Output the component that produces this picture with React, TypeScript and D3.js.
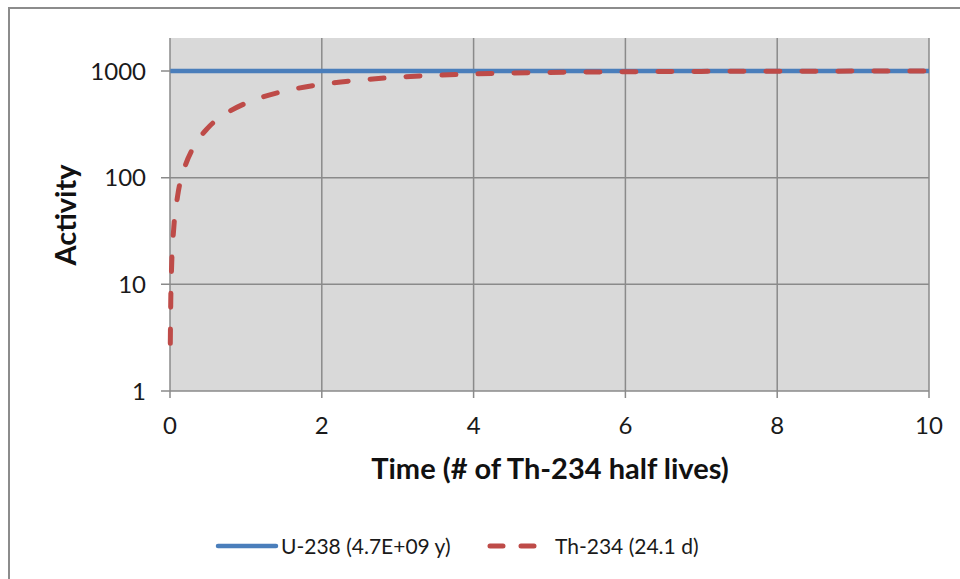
import { useEffect, useRef } from "react";
import * as d3 from "d3";

// half lives of Th-234
const times = [0.004, 0.01, 0.02, 0.05, 0.1, 0.2, 0.3, 0.5, 0.75, 1, 1.5, 2, 2.5, 3, 4, 5, 6, 7, 8, 9, 10];
// activity
const u238 = [1000, 1000, 1000, 1000, 1000, 1000, 1000, 1000, 1000, 1000, 1000, 1000, 1000, 1000, 1000, 1000, 1000, 1000, 1000, 1000, 1000];
const th234 = [2.8, 6.9, 13.8, 34, 67, 129, 188, 293, 405, 500, 646, 750, 823, 875, 938, 969, 984, 992, 996, 998, 999];
const xTicks = [0, 2, 4, 6, 8, 10];
const yTicks = [1, 10, 100, 1000];
const seriesNames = ["U-238 (4.7E+09 y)", "Th-234 (24.1 d)"];

const BLUE = "#4A7EBB";
const RED = "#BE4B48";
const FONT = "Lato, 'Open Sans', sans-serif";

const App = () => {
  const ref = useRef<SVGSVGElement>(null);

  useEffect(() => {
    const width = 960;
    const height = 579;
    const m = { left: 170, right: 929, top: 38, bottom: 391 };

    const svg = d3.select(ref.current).attr("width", width).attr("height", height);
    svg.selectAll("*").remove();

    svg.append("rect").attr("width", width).attr("height", height).attr("fill", "white");
    // chart border
    svg
      .append("rect")
      .attr("x", 9)
      .attr("y", 8)
      .attr("width", width + 10)
      .attr("height", height + 10)
      .attr("fill", "none")
      .attr("stroke", "#8c8c8c")
      .attr("stroke-width", 2);

    const x = d3.scaleLinear().domain([0, 10]).range([m.left, m.right]);
    const y = d3.scaleLog().domain([1, 2040]).range([m.bottom, m.top]);

    // plot area
    svg
      .append("rect")
      .attr("x", m.left)
      .attr("y", m.top)
      .attr("width", m.right - m.left)
      .attr("height", m.bottom - m.top)
      .attr("fill", "#D9D9D9");

    // grid lines
    const grid = svg.append("g").attr("stroke", "#8a8a8a").attr("stroke-width", 1.5);
    grid
      .selectAll("line.v")
      .data(xTicks)
      .join("line")
      .attr("x1", (d) => x(d))
      .attr("x2", (d) => x(d))
      .attr("y1", m.top)
      .attr("y2", m.bottom + 7);
    grid
      .selectAll("line.h")
      .data(yTicks)
      .join("line")
      .attr("class", "h")
      .attr("x1", m.left - 9)
      .attr("x2", m.right)
      .attr("y1", (d) => y(d))
      .attr("y2", (d) => y(d));

    // tick labels
    svg
      .append("g")
      .attr("font-family", FONT)
      .attr("font-size", 24)
      .attr("fill", "#1a1a1a")
      .attr("text-anchor", "end")
      .selectAll("text")
      .data(yTicks)
      .join("text")
      .attr("x", 146)
      .attr("y", (d) => y(d))
      .attr("dy", "0.36em")
      .text((d) => d);

    svg
      .append("g")
      .attr("font-family", FONT)
      .attr("font-size", 24)
      .attr("fill", "#1a1a1a")
      .attr("text-anchor", "middle")
      .selectAll("text")
      .data(xTicks)
      .join("text")
      .attr("x", (d) => x(d))
      .attr("y", 434)
      .text((d) => d);

    // axis titles
    svg
      .append("text")
      .attr("font-family", FONT)
      .attr("font-weight", "bold")
      .attr("font-size", 29)
      .attr("text-anchor", "middle")
      .attr("fill", "#111")
      .attr("x", 550)
      .attr("y", 479)
      .text("Time (# of Th-234 half lives)");

    svg
      .append("text")
      .attr("font-family", FONT)
      .attr("font-weight", "bold")
      .attr("font-size", 29)
      .attr("text-anchor", "middle")
      .attr("fill", "#111")
      .attr("transform", `translate(76, 215) rotate(-90)`)
      .text("Activity");

    const line = d3
      .line<number>()
      .x((_, i) => x(times[i]))
      .y((d) => y(d))
      .curve(d3.curveMonotoneX);

    const series = svg.append("g");
    series
      .append("path")
      .datum(u238)
      .attr("d", line)
      .attr("fill", "none")
      .attr("stroke", BLUE)
      .attr("stroke-width", 4.5);

    series
      .append("path")
      .datum(th234)
      .attr("d", line)
      .attr("fill", "none")
      .attr("stroke", RED)
      .attr("stroke-width", 5)
      .attr("stroke-linecap", "round")
      .attr("stroke-dasharray", "14,22");

    // legend
    const lg = svg.append("g").attr("font-family", FONT).attr("font-size", 21).attr("fill", "#1a1a1a");
    lg.append("line")
      .attr("x1", 218)
      .attr("x2", 276)
      .attr("y1", 546)
      .attr("y2", 546)
      .attr("stroke", BLUE)
      .attr("stroke-width", 4.5)
      .attr("stroke-linecap", "round");
    lg.append("text").attr("x", 281).attr("y", 554).text(seriesNames[0]);
    lg.append("line")
      .attr("x1", 490)
      .attr("x2", 536)
      .attr("y1", 546)
      .attr("y2", 546)
      .attr("stroke", RED)
      .attr("stroke-width", 5)
      .attr("stroke-linecap", "round")
      .attr("stroke-dasharray", "13,18");
    lg.append("text").attr("x", 555).attr("y", 554).text(seriesNames[1]);
  }, []);

  return <svg ref={ref} style={{ position: "absolute", left: 0, top: 0 }} />;
};

export default App;
